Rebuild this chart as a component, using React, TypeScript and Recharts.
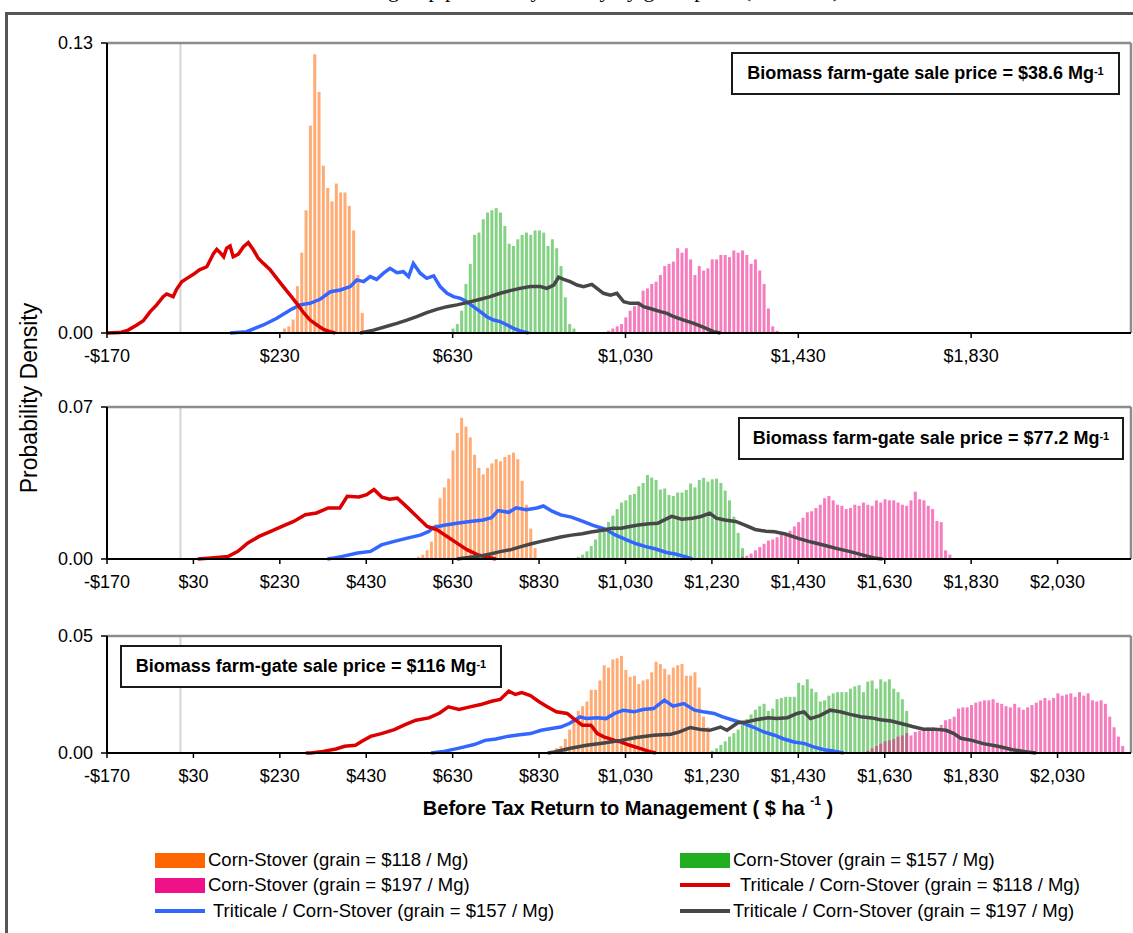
import { Bar, ComposedChart, Line, ReferenceLine, XAxis, YAxis } from 'recharts';

const FONT = '"Liberation Sans", Arial, Helvetica, sans-serif';
const BIN = 10; // histogram bin width, $ ha-1
const X_MIN = -170;
const X_MAX = 2200;

const ORANGE = '#ff6600';
const GREEN = '#20ad20';
const PINK = '#ee1188';
const RED = '#dd0000';
const BLUE = '#3366ff';
const GRAY = '#474747';

// return-axis tick labels
const ticksWide = [-170, 230, 630, 1030, 1430, 1830];
const ticksFine = [-170, 30, 230, 430, 630, 830, 1030, 1230, 1430, 1630, 1830, 2030];

// Densities are written in thousandths. Histograms: first bin + one value per $10 bin.
// Curves: [return, density] pairs.

// --- biomass at $38.6 / Mg ---
const p1OrangeStart = 240;
const p1Orange = [2, 3, 6, 21, 36, 55, 93, 125, 108, 75, 65, 59, 67, 63, 63, 57, 46, 26, 9];
const p1GreenStart = 630;
const p1Green = [2, 4, 10, 22, 31, 44, 45, 51, 54, 55, 56, 54, 48, 40, 39, 42, 44, 45, 44, 46, 46, 45, 39, 42, 38, 30, 16, 4, 2];
const p1PinkStart = 990;
const p1Pink = [1, 2, 3, 4, 7, 10, 12, 14, 19, 20, 22, 23, 26, 30, 31, 32, 38, 36, 38, 33, 26, 30, 28, 29, 33, 33, 35, 35, 34, 37, 36, 37, 35, 31, 33, 28, 22, 11, 3, 1];
const p1Red: [number, number][] = [
  [-170, 0], [-140, 0.2], [-121, 1.3], [-101, 3.6], [-86, 5.5], [-70, 9.6], [-55, 12.6], [-40, 16.3], [-32, 17.5], [-17, 16.3],
  [-9, 19.6], [3, 23], [15, 24.5], [30, 26.3], [44, 28.3], [61, 29.7], [76, 35.4], [84, 37.5], [92, 36], [100, 34.2],
  [107, 38], [115, 39], [122, 34.2], [134, 35.4], [146, 38.7], [157, 40.5], [169, 37.2], [180, 33.5], [192, 31.2], [207, 28.5],
  [223, 24.5], [238, 20.8], [254, 17], [269, 13.3], [285, 9.1], [300, 5.8], [316, 3.6], [331, 1.6], [346, 0.6], [358, 0],
];
const p1Blue: [number, number][] = [
  [115, 0], [153, 0.6], [192, 3.6], [223, 6.6], [254, 10.3], [277, 12.6], [300, 13.3], [323, 15.1], [347, 18.5], [370, 19.3],
  [393, 20.8], [408, 23.8], [424, 23], [439, 25.3], [454, 24], [470, 26.8], [485, 29], [501, 27], [516, 27.5], [528, 25.3],
  [539, 31.2], [555, 26.8], [570, 24.5], [586, 25.6], [601, 20.8], [617, 17.8], [632, 16.3], [648, 15.5], [663, 14], [678, 11.8],
  [694, 9.6], [709, 7.3], [725, 5.8], [740, 5.1], [756, 3.6], [771, 2.1], [786, 0.9], [806, 0],
];
const p1Gray: [number, number][] = [
  [416, 0], [447, 1.3], [478, 3], [501, 4.3], [524, 5.8], [547, 7.3], [570, 9.1], [593, 10.6], [617, 11.8], [640, 12.6],
  [663, 13.6], [694, 15.1], [717, 16.3], [740, 17.8], [763, 19], [786, 20], [810, 20.8], [833, 20.8], [848, 20], [864, 21.5],
  [875, 25], [887, 24], [902, 23], [918, 21.5], [933, 20.8], [952, 21.8], [964, 20], [979, 17.8], [995, 17], [1010, 17.8],
  [1026, 14], [1041, 13.3], [1060, 13.3], [1072, 11.8], [1087, 11], [1111, 9.6], [1126, 8.8], [1142, 7.3], [1165, 5.8], [1188, 4.3],
  [1211, 2.5], [1234, 0.6], [1250, 0],
];

// --- biomass at $77.2 / Mg ---
const p2OrangeStart = 550;
const p2Orange = [1, 2, 4, 8, 16, 28, 33, 37, 50, 58, 65, 61, 56, 48, 42, 39, 42, 44, 46, 45, 47, 48, 49, 46, 36, 25, 14, 5];
const p2GreenStart = 920;
const p2Green = [1, 2, 3.5, 6, 9, 12, 14, 17, 20, 23, 26, 27, 29.5, 30, 33.5, 35, 38.7, 37.5, 36.4, 32, 32.5, 29.5, 29, 30.6, 30.6, 31.8, 34.8, 33, 36.4, 37.4, 35.6, 36.7, 37, 35, 31.5, 27, 19.5, 12, 5];
const p2PinkStart = 1300;
const p2Pink = [1, 1.5, 2.5, 4, 5.5, 7, 8.5, 9, 10, 11.5, 12, 13, 15, 17, 19, 21.5, 22, 23.5, 25, 28, 29, 27, 25, 24.5, 23, 23.5, 25, 24.5, 26, 25, 24.5, 27, 26, 27.5, 27, 27, 26, 25, 24.5, 27, 31, 27.5, 27, 24.5, 23, 17.5, 17, 4, 2];
const p2Red: [number, number][] = [
  [40, 0], [71, 0.5], [111, 1.2], [133, 3.5], [156, 7.4], [182, 10.4], [209, 12.7], [235, 15], [262, 17.3], [289, 20.4],
  [315, 21.2], [342, 23.5], [369, 23.5], [386, 28.9], [413, 28.6], [431, 29.6], [448, 32], [466, 28.5], [484, 27.5], [502, 28],
  [524, 24], [547, 19.6], [571, 15], [594, 13.4], [617, 10.4], [640, 7.3], [663, 4.3], [687, 2], [710, 0.8], [730, 0],
];
const p2Blue: [number, number][] = [
  [340, 0], [350, 0.3], [375, 1.2], [410, 2.8], [440, 3.5], [465, 6.5], [495, 8.1], [525, 9.6], [555, 11], [575, 12.7],
  [585, 14.5], [610, 15.5], [640, 16.5], [670, 17.3], [700, 18], [720, 19], [735, 22.3], [760, 21.5], [777, 23.6], [800, 22.7],
  [825, 23.5], [840, 24.4], [860, 22], [880, 20.3], [905, 19.3], [930, 17.4], [955, 15.5], [985, 13.6], [1005, 11.2], [1030, 9],
  [1055, 7], [1075, 5.8], [1100, 4.6], [1125, 3], [1145, 2.3], [1170, 1], [1185, 0],
];
const p2Gray: [number, number][] = [
  [640, 0], [680, 1], [700, 1.6], [720, 2.4], [740, 3.4], [765, 4.3], [790, 5.8], [810, 6.9], [835, 8.1], [860, 9.2],
  [880, 10.1], [905, 11], [930, 11.6], [950, 12.4], [975, 13.1], [1000, 14.2], [1020, 14.2], [1040, 15], [1060, 15.7], [1085, 16.2],
  [1105, 16.5], [1120, 18], [1137, 19.6], [1160, 18.3], [1185, 18.8], [1205, 19.6], [1225, 21.1], [1240, 18.8], [1260, 18], [1285, 17.3],
  [1305, 15.7], [1330, 13.6], [1355, 12.8], [1375, 12.5], [1400, 11.5], [1430, 9.5], [1460, 7.8], [1490, 6.3], [1520, 4.8], [1550, 3.4],
  [1580, 1.8], [1610, 0.3], [1625, 0],
];

// --- biomass at $116 / Mg ---
const p3OrangeStart = 870;
const p3Orange = [2, 3, 6, 10, 15, 18, 20, 22, 27, 27, 31, 37.5, 36.5, 40, 40.5, 41.5, 35.5, 32.5, 33, 29.5, 31, 31.5, 34.5, 39, 38, 36, 33.5, 36.5, 37.5, 38, 33, 33, 34.5, 28, 15.5, 11];
const p3GreenStart = 1230;
const p3Green = [1, 2, 3.5, 5, 7, 8.5, 10, 12, 14.5, 16.5, 18.5, 20, 21, 18, 19, 23, 23.5, 24, 24, 24, 30, 29, 31.5, 27.5, 26, 22, 22.5, 24.5, 25.5, 26, 26, 26, 27.5, 28.5, 29, 26, 30.5, 31, 27.5, 31.5, 30.5, 31.5, 27.5, 26, 23, 18];
const p3PinkStart = 1590;
const p3Pink = [1, 2, 3, 4, 5, 5.5, 6, 7, 7.5, 8.5, 7.5, 9, 9.5, 10.5, 11, 11, 10.5, 12, 14, 14.5, 15.5, 19, 19.5, 19.5, 20.5, 21.5, 22, 22.5, 22.5, 23, 21.5, 21, 20, 19.5, 21, 19.5, 18.5, 19.5, 20.5, 21.5, 22.5, 23.5, 22.5, 23.5, 25.5, 24.5, 25, 25.5, 24, 26, 24.5, 25.5, 22.5, 22, 22.5, 21, 15.5, 11, 7, 3];
const p3Red: [number, number][] = [
  [290, 0], [302, 0], [330, 0.7], [360, 1.7], [380, 2.9], [405, 3.3], [420, 5], [440, 7.1], [465, 8.3], [495, 10],
  [520, 12.1], [545, 14], [575, 15], [600, 17.1], [620, 19.7], [645, 18.6], [670, 19.7], [695, 20.7], [720, 22.1], [740, 22.9],
  [760, 26.4], [775, 25], [790, 25.8], [810, 24.5], [830, 21.9], [850, 19.7], [870, 17.6], [895, 16.9], [910, 14.7], [930, 11.9],
  [950, 11.9], [965, 8.3], [980, 6.9], [1005, 5.4], [1020, 4.7], [1040, 3.3], [1065, 1.9], [1090, 0.4], [1100, 0],
];
const p3Blue: [number, number][] = [
  [580, 0], [610, 0.7], [645, 2.1], [680, 3.6], [705, 5.4], [730, 6], [760, 7.2], [785, 7.8], [810, 8.3], [835, 9.7],
  [855, 10.4], [880, 11.1], [900, 12.6], [925, 15.4], [940, 14.7], [965, 15.1], [985, 14.7], [1005, 16.9], [1025, 18.3], [1050, 17.6],
  [1070, 18.6], [1095, 19], [1120, 22.6], [1140, 20], [1165, 21.1], [1190, 18.3], [1210, 17.6], [1235, 16.9], [1255, 15.4], [1280, 14],
  [1305, 12.6], [1325, 11.1], [1350, 9], [1375, 7.6], [1395, 6.1], [1420, 4.7], [1445, 4], [1465, 2.6], [1490, 1.4], [1510, 0.9],
  [1535, 0],
];
const p3Gray: [number, number][] = [
  [850, 0], [865, 0.4], [900, 1.9], [940, 3.3], [980, 4.3], [1020, 5.4], [1055, 6.6], [1095, 7.6], [1135, 8], [1155, 9],
  [1180, 10.9], [1205, 10], [1225, 9.7], [1250, 11.1], [1265, 9.7], [1290, 12.9], [1310, 13.3], [1335, 14.3], [1360, 15.1], [1380, 14.7],
  [1405, 15.1], [1427, 16.9], [1443, 17.6], [1458, 14.7], [1480, 16], [1504, 18.3], [1527, 17.6], [1550, 16.5], [1575, 15.5], [1600, 15],
  [1620, 14.2], [1645, 13.7], [1668, 12.6], [1694, 11.3], [1720, 10.2], [1746, 10.2], [1772, 9.7], [1790, 8.3], [1806, 6.3], [1832, 5.4],
  [1858, 4], [1892, 2.9], [1926, 1.4], [1960, 0.4], [1980, 0],
];

const legendItems = [
  { key: 'orange', kind: 'bar', color: ORANGE, name: 'Corn-Stover (grain = $118 / Mg)', x: 155, y: 860, gap: 3 },
  { key: 'green', kind: 'bar', color: GREEN, name: 'Corn-Stover (grain = $157 / Mg)', x: 680, y: 860, gap: 3 },
  { key: 'pink', kind: 'bar', color: PINK, name: 'Corn-Stover (grain = $197 / Mg)', x: 155, y: 885, gap: 3 },
  { key: 'red', kind: 'line', color: RED, name: 'Triticale / Corn-Stover (grain = $118 / Mg)', x: 680, y: 885, gap: 10 },
  { key: 'blue', kind: 'line', color: BLUE, name: 'Triticale / Corn-Stover (grain = $157 / Mg)', x: 155, y: 911, gap: 8 },
  { key: 'gray', kind: 'line', color: GRAY, name: 'Triticale / Corn-Stover (grain = $197 / Mg)', x: 680, y: 911, gap: 3 },
];

type Hist = { key: string; color: string; start: number; values: number[] };
type Curve = { key: string; color: string; points: [number, number][] };

// one row per $10 bin, holding whichever histograms reach that bin
function binRows(hists: Hist[]) {
  const rows = new Map<number, Record<string, number>>();
  hists.forEach((h) =>
    h.values.forEach((v, i) => {
      const x = h.start + i * BIN;
      const row = rows.get(x) ?? { x };
      row[h.key] = v / 1000;
      rows.set(x, row);
    }),
  );
  return [...rows.values()].sort((a, b) => a.x - b.x);
}

const money = (v: number) => (v < 0 ? '-$' : '$') + Math.abs(v).toLocaleString('en-US');

type PanelProps = {
  top: number;
  plotH: number;
  yMax: number;
  xTicks: number[];
  hists: Hist[];
  curves: Curve[];
};

function Panel({ top, plotH, yMax, xTicks, hists, curves }: PanelProps) {
  const rows = binRows(hists);
  return (
    <div style={{ position: 'absolute', left: 0, top: top - 10 }}>
      <ComposedChart width={1133} height={plotH + 50} data={rows} margin={{ top: 10, right: 2, bottom: 0, left: 0 }}>
        <XAxis
          xAxisId="ret"
          dataKey="x"
          type="number"
          domain={[X_MIN, X_MAX]}
          allowDataOverflow
          ticks={xTicks}
          interval={0}
          tickFormatter={money}
          height={40}
          stroke="#000"
          strokeWidth={2}
          tickSize={5}
          tickMargin={11}
          axisLine={{ stroke: '#000', strokeWidth: 2 }}
          tickLine={{ stroke: '#000', strokeWidth: 1.5 }}
          tick={{ fill: '#000', fontSize: 18, fontFamily: FONT }}
        />
        {/* each histogram gets its own hidden axis so the bars overlap instead of grouping */}
        {hists.map((h) => (
          <XAxis
            key={h.key}
            xAxisId={h.key}
            orientation="top"
            height={0}
            dataKey="x"
            type="number"
            domain={[X_MIN, X_MAX]}
            allowDataOverflow
            hide
          />
        ))}
        <YAxis
          type="number"
          domain={[0, yMax]}
          ticks={[0, yMax]}
          interval={0}
          tickFormatter={(v: number) => v.toFixed(2)}
          width={107}
          stroke="#000"
          strokeWidth={2}
          tickSize={6}
          tickMargin={8}
          axisLine={{ stroke: '#000', strokeWidth: 2 }}
          tickLine={{ stroke: '#000', strokeWidth: 1.5 }}
          tick={{ fill: '#000', fontSize: 18, fontFamily: FONT }}
        />
        <ReferenceLine xAxisId="ret" x={0} stroke="#d4d4d4" strokeWidth={2} />
        {/* plot frame: grey top and right edges */}
        <ReferenceLine xAxisId="ret" y={yMax} stroke="#8c8c8c" strokeWidth={2.5} />
        <ReferenceLine xAxisId="ret" x={X_MAX} stroke="#8c8c8c" strokeWidth={2.5} />
        {hists.map((h) => (
          <Bar
            key={h.key}
            xAxisId={h.key}
            dataKey={h.key}
            fill={h.color}
            fillOpacity={0.55}
            barSize={3}
            isAnimationActive={false}
          />
        ))}
        {curves.map((c) => (
          <Line
            key={c.key}
            xAxisId="ret"
            data={c.points.map(([x, v]) => ({ x, y: v / 1000 }))}
            dataKey="y"
            type="linear"
            stroke={c.color}
            strokeWidth={3.5}
            dot={false}
            activeDot={false}
            isAnimationActive={false}
          />
        ))}
        {/* axis lines drawn again on top so they stay visible */}
        <ReferenceLine xAxisId="ret" y={0} stroke="#000" strokeWidth={2} />
        <ReferenceLine xAxisId="ret" x={X_MIN} stroke="#000" strokeWidth={2} />
      </ComposedChart>
    </div>
  );
}

function PriceNote({ left, top, width, price }: { left: number; top: number; width: number; price: string }) {
  return (
    <div
      style={{
        position: 'absolute',
        left,
        top,
        width,
        height: 43,
        boxSizing: 'border-box',
        border: '2px solid #1a1a1a',
        background: '#fff',
        display: 'flex',
        alignItems: 'center',
        justifyContent: 'center',
        fontWeight: 700,
        fontSize: 18,
        whiteSpace: 'nowrap',
      }}
    >
      Biomass farm-gate sale price = {price} Mg
      <sup style={{ fontSize: 11, position: 'relative', top: -3 }}>-1</sup>
    </div>
  );
}

const App = () => {
  const hists = (o: [number, number[]], g: [number, number[]], p: [number, number[]]): Hist[] => [
    { key: 'orange', color: ORANGE, start: o[0], values: o[1] },
    { key: 'green', color: GREEN, start: g[0], values: g[1] },
    { key: 'pink', color: PINK, start: p[0], values: p[1] },
  ];
  const curves = (r: [number, number][], b: [number, number][], k: [number, number][]): Curve[] => [
    { key: 'blue', color: BLUE, points: b },
    { key: 'red', color: RED, points: r },
    { key: 'gray', color: GRAY, points: k },
  ];

  return (
    <div
      style={{
        position: 'absolute',
        left: 0,
        top: 0,
        width: 1133,
        height: 933,
        overflow: 'hidden',
        background: '#fff',
        fontFamily: FONT,
        color: '#000',
      }}
    >
      <div
        style={{
          position: 'absolute',
          left: 0,
          width: 1133,
          top: -23,
          textAlign: 'center',
          fontFamily: '"Liberation Serif", "Times New Roman", serif',
          fontSize: 22,
          whiteSpace: 'nowrap',
        }}
      >
        Net return group probability density by grain price (scenarios)
      </div>
      <div style={{ position: 'absolute', left: 5, top: 12, width: 1130, borderTop: '3px solid #555' }} />
      <div style={{ position: 'absolute', left: 5, top: 12, height: 925, borderLeft: '3px solid #555' }} />

      <Panel
        top={43}
        plotH={290}
        yMax={0.13}
        xTicks={ticksWide}
        hists={hists([p1OrangeStart, p1Orange], [p1GreenStart, p1Green], [p1PinkStart, p1Pink])}
        curves={curves(p1Red, p1Blue, p1Gray)}
      />
      <Panel
        top={407}
        plotH={152}
        yMax={0.07}
        xTicks={ticksFine}
        hists={hists([p2OrangeStart, p2Orange], [p2GreenStart, p2Green], [p2PinkStart, p2Pink])}
        curves={curves(p2Red, p2Blue, p2Gray)}
      />
      <Panel
        top={636}
        plotH={117}
        yMax={0.05}
        xTicks={ticksFine}
        hists={hists([p3OrangeStart, p3Orange], [p3GreenStart, p3Green], [p3PinkStart, p3Pink])}
        curves={curves(p3Red, p3Blue, p3Gray)}
      />

      <PriceNote left={731} top={52} width={389} price="$38.6" />
      <PriceNote left={738} top={417} width={386} price="$77.2" />
      <PriceNote left={120} top={645} width={382} price="$116" />

      <div
        style={{
          position: 'absolute',
          left: 29,
          top: 398,
          transform: 'translate(-50%, -50%) rotate(-90deg)',
          fontSize: 23,
          whiteSpace: 'nowrap',
        }}
      >
        Probability Density
      </div>
      <div
        style={{
          position: 'absolute',
          left: 628,
          top: 808,
          transform: 'translate(-50%, -50%)',
          fontSize: 20,
          fontWeight: 700,
          whiteSpace: 'nowrap',
        }}
      >
        Before Tax Return to Management ( $ ha <sup style={{ fontSize: 12, position: 'relative', top: -2 }}>-1</sup> )
      </div>

      {legendItems.map((it) => (
        <div
          key={it.key}
          style={{ position: 'absolute', left: it.x, top: it.y - 11, height: 22, display: 'flex', alignItems: 'center' }}
        >
          <div
            style={{
              width: 50,
              height: it.kind === 'bar' ? 15 : 4,
              background: it.color,
            }}
          />
          <span style={{ marginLeft: it.gap, fontSize: 18.5, whiteSpace: 'nowrap' }}>{it.name}</span>
        </div>
      ))}
    </div>
  );
};

export default App;
